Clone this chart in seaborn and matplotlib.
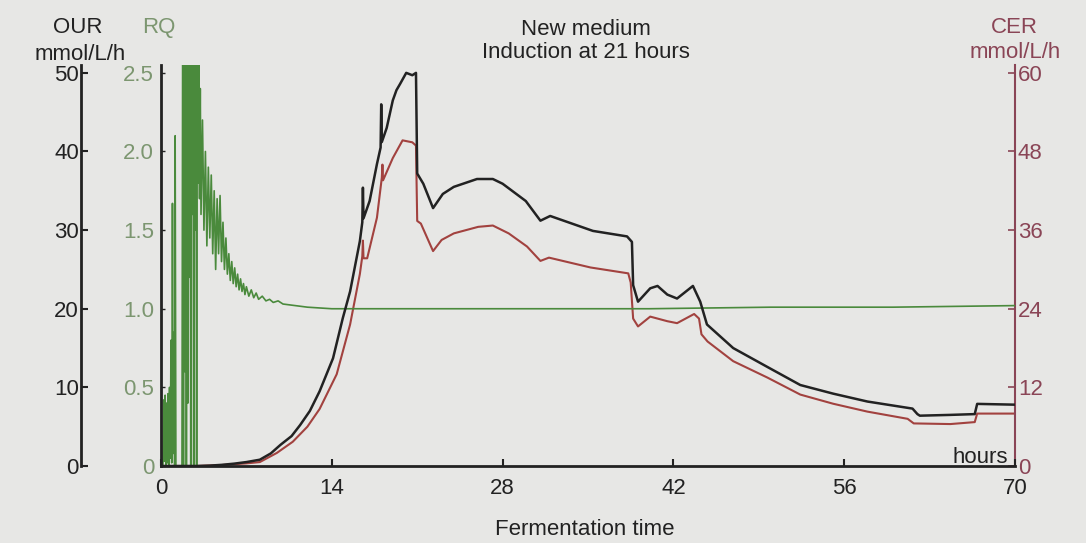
import matplotlib
matplotlib.use("Agg")
import matplotlib.pyplot as plt
import seaborn as sns

# --- Oxygen uptake rate (OUR, mmol/L/h) vs fermentation time (h) ---
our_t = [0.0, 2.9, 4.0, 5.0, 6.0, 7.0, 8.1, 9.0, 9.8, 10.7,
         11.4, 12.2, 13.0, 14.1, 14.9, 15.5, 16.3, 16.5, 16.55, 16.6,
         17.1, 17.7, 18.0, 18.05, 18.1, 18.5, 19.0, 19.3, 19.6, 20.1,
         20.6, 20.9, 21.0, 21.5, 22.3, 23.1, 24.0, 25.9, 27.2, 28.0,
         29.9, 31.1, 31.9, 35.4, 38.2, 38.6, 38.7, 39.1, 40.1, 40.7,
         41.5, 42.3, 43.6, 44.2, 44.75, 46.9, 49.7, 52.4, 55.1, 57.9,
         61.6, 62.0, 62.2, 64.7, 66.7, 66.9, 70.0]
our_v = [0.0, 0.0, 0.05, 0.15, 0.3, 0.5, 0.8, 1.6, 2.7, 3.8,
         5.2, 7.0, 9.5, 13.7, 18.8, 22.2, 28.6, 31.0, 35.4, 31.5,
         33.7, 38.4, 40.5, 46.0, 41.2, 43.0, 46.5, 47.8, 48.6, 50.0,
         49.7, 50.0, 37.2, 35.9, 32.8, 34.6, 35.5, 36.5, 36.5, 35.9,
         33.7, 31.2, 31.8, 29.9, 29.2, 28.5, 23.0, 20.9, 22.6, 22.9,
         21.8, 21.3, 22.9, 20.9, 18.0, 15.0, 12.6, 10.3, 9.2, 8.2,
         7.3, 6.6, 6.4, 6.5, 6.6, 7.9, 7.8]

# --- CO2 evolution rate (CER, mmol/L/h) ---
cer_t = [0.0, 2.9, 5.0, 7.0, 8.1, 9.5, 10.8, 12.0, 13.0, 14.4,
         15.5, 16.3, 16.5, 16.55, 16.6, 16.9, 17.7, 18.1, 18.15, 18.2,
         19.0, 19.8, 20.6, 20.9, 21.0, 21.3, 22.3, 23.0, 24.0, 26.0,
         27.2, 28.5, 30.0, 31.1, 31.8, 35.2, 38.3, 38.5, 38.7, 39.1,
         40.1, 41.5, 42.3, 43.7, 44.1, 44.3, 44.8, 46.9, 49.7, 52.4,
         55.1, 57.9, 61.2, 61.7, 64.7, 66.7, 66.9, 70.0]
cer_v = [0.0, 0.0, 0.15, 0.4, 0.6, 2.0, 3.7, 6.0, 8.7, 14.0,
         21.6, 29.3, 32.0, 34.4, 31.7, 31.7, 37.9, 44.0, 46.0, 43.6,
         47.0, 49.7, 49.4, 48.9, 37.4, 37.0, 32.8, 34.5, 35.5, 36.5,
         36.7, 35.5, 33.5, 31.3, 31.8, 30.3, 29.4, 28.0, 22.5, 21.3,
         22.8, 22.1, 21.8, 23.2, 22.5, 20.1, 19.0, 16.0, 13.5, 10.9,
         9.5, 8.3, 7.2, 6.5, 6.4, 6.7, 8.0, 8.0]

# --- Respiratory quotient (RQ): erratic start-up, then settling near 1 ---
rq_start_t = [0.00, 0.16, 0.22, 0.28, 0.34, 0.40, 0.46, 0.52, 0.58, 0.64,
              0.70, 0.76, 0.82, 0.88, 0.94, 1.00, 1.06, 1.12, 1.16, 1.22,
              1.72, 1.78, 1.84, 1.90, 1.96, 2.02, 2.08, 2.14, 2.20, 2.26,
              2.32, 2.38, 2.44, 2.50, 2.56, 2.62, 2.68, 2.74, 2.80, 2.86,
              2.92, 2.98, 3.04, 3.10, 3.16, 3.22]
rq_start_v = [0.0, 0.0, 0.42, 0.03, 0.45, 0.0, 0.40, 0.02, 0.46, 0.0,
              0.50, 0.05, 0.80, 0.02, 1.67, 0.08, 0.85, 0.0, 2.10, 0.0,
              0.0, 3.0, 0.0, 3.2, 0.6, 3.0, 0.0, 2.8, 0.4, 3.1,
              1.2, 2.9, 0.0, 3.0, 1.6, 2.7, 0.0, 2.6, 1.5, 2.9,
              0.0, 2.7, 1.8, 2.6, 1.7, 2.4]
rq_settle_t = [3.28, 3.40, 3.52, 3.64, 3.76, 3.88, 4.00, 4.12, 4.24, 4.36,
               4.48, 4.60, 4.72, 4.84, 4.96, 5.08, 5.20, 5.32, 5.44, 5.56,
               5.68, 5.80, 5.92, 6.04, 6.16, 6.28, 6.40, 6.52, 6.64, 6.76,
               6.88, 7.00, 7.20, 7.40, 7.60, 7.80, 8.00, 8.30, 8.60, 8.90,
               9.20, 9.60, 10.0, 11.0, 12.0, 14.0, 20.0, 30.0, 40.0, 50.0,
               60.0, 70.0]
rq_settle_v = [1.6, 2.2, 1.5, 2.0, 1.4, 1.9, 1.45, 1.85, 1.35, 1.75,
               1.25, 1.70, 1.35, 1.72, 1.30, 1.55, 1.25, 1.45, 1.22, 1.35,
               1.18, 1.30, 1.16, 1.26, 1.14, 1.22, 1.12, 1.19, 1.11, 1.16,
               1.09, 1.14, 1.08, 1.12, 1.07, 1.10, 1.06, 1.08, 1.05, 1.06,
               1.04, 1.05, 1.03, 1.02, 1.01, 1.0, 1.0, 1.0, 1.0, 1.01,
               1.01, 1.02]

x_ticks = [0, 14, 28, 42, 56, 70]
our_ticks = [0, 10, 20, 30, 40, 50]
rq_ticks = [0, 0.5, 1.0, 1.5, 2.0, 2.5]
rq_labels = ["0", "0.5", "1.0", "1.5", "2.0", "2.5"]
cer_ticks = [0, 12, 24, 36, 48, 60]

BG = "#e7e7e5"
DARK = "#222222"
RED = "#a2423f"
MAROON = "#8a4556"
GREEN = "#4a8a3c"
GREEN_TXT = "#7c9670"

sns.set_theme(style="ticks")
plt.rcParams["font.family"] = ["Liberation Sans", "DejaVu Sans"]
plt.rcParams["font.size"] = 16

W, H = 1086, 543
L, R, B, T = 161, 1015, 466, 65

fig = plt.figure(figsize=(W / 100, H / 100), dpi=100, facecolor=BG)
ax = fig.add_axes([L / W, 1 - B / H, (R - L) / W, (B - T) / H])
ax.patch.set_visible(False)
ax_rq = ax.twinx()
ax_cer = ax.twinx()

# draw order: CER underneath, RQ, then OUR on top
ax_cer.set_zorder(1)
ax_rq.set_zorder(2)
ax.set_zorder(3)
for a in (ax_cer, ax_rq, ax):
    a.patch.set_visible(False)

rq_t = rq_start_t + rq_settle_t
rq_v = rq_start_v + rq_settle_v
sns.lineplot(x=cer_t, y=cer_v, ax=ax_cer, color=RED, linewidth=1.5,
             sort=False, estimator=None)
sns.lineplot(x=rq_t, y=rq_v, ax=ax_rq, color=GREEN, linewidth=1.2,
             sort=False, estimator=None)
sns.lineplot(x=our_t, y=our_v, ax=ax, color=DARK, linewidth=1.8,
             sort=False, estimator=None)

# scales: all three share the same pixel scale (RQ x20 = OUR, CER = OUR x1.2)
ax.set_xlim(0, 70)
ax.set_ylim(0, 51.0)
ax_rq.set_ylim(0, 2.55)
ax_cer.set_ylim(0, 61.2)

ax.set_xticks(x_ticks)
ax.set_xticklabels([str(v) for v in x_ticks])
ax.set_yticks(our_ticks)
ax.set_yticklabels([str(v) for v in our_ticks])
ax_rq.set_yticks(rq_ticks)
ax_rq.set_yticklabels(rq_labels)
ax_cer.set_yticks(cer_ticks)
ax_cer.set_yticklabels([str(v) for v in cer_ticks])
for a in (ax, ax_rq, ax_cer):
    a.set_xlabel("")
    a.set_ylabel("")

# OUR axis: offset to the left
ax.spines["left"].set_position(("outward", 80 * 0.72))
ax.spines["left"].set_color(DARK)
ax.spines["left"].set_linewidth(2)
ax.spines["bottom"].set_color(DARK)
ax.spines["bottom"].set_linewidth(2)
ax.spines["right"].set_visible(False)
ax.spines["top"].set_visible(False)
ax.yaxis.set_ticks_position("left")
ax.tick_params(axis="y", direction="in", length=5, width=1.5, pad=1.5,
               colors=DARK, labelsize=16)
ax.tick_params(axis="x", direction="in", length=5, width=1.5, pad=9,
               colors=DARK, labelsize=16)

# RQ axis: at the plot's left edge
ax_rq.yaxis.set_ticks_position("left")
ax_rq.yaxis.set_label_position("left")
for s in ("right", "top", "bottom"):
    ax_rq.spines[s].set_visible(False)
ax_rq.spines["left"].set_visible(True)
ax_rq.spines["left"].set_color(DARK)
ax_rq.spines["left"].set_linewidth(2)
ax_rq.tick_params(axis="y", direction="in", length=3, width=1, pad=5,
                  color=DARK, labelcolor=GREEN_TXT, labelsize=16)

# CER axis: on the right
for s in ("left", "top", "bottom"):
    ax_cer.spines[s].set_visible(False)
ax_cer.spines["right"].set_color(MAROON)
ax_cer.spines["right"].set_linewidth(1.5)
ax_cer.tick_params(axis="y", direction="in", length=5, width=1.2, pad=2,
                   colors=MAROON, labelsize=16)

# headings and axis names
def ftext(x, y, s, **kw):
    fig.text(x / W, 1 - y / H, s, fontsize=16, **kw)

ftext(586, 35, "New medium", ha="center", va="baseline", color=DARK)
ftext(586, 58, "Induction at 21 hours", ha="center", va="baseline", color=DARK)
ftext(78, 33, "OUR", ha="center", va="baseline", color=DARK)
ftext(80, 60, "mmol/L/h", ha="center", va="baseline", color=DARK)
ftext(159, 33, "RQ", ha="center", va="baseline", color=GREEN_TXT)
ftext(1014, 33, "CER", ha="center", va="baseline", color=MAROON)
ftext(1015, 58, "mmol/L/h", ha="center", va="baseline", color=MAROON)
ftext(1008, 463, "hours", ha="right", va="baseline", color=DARK)
ftext(585, 535, "Fermentation time", ha="center", va="baseline", color=DARK)

fig.savefig("out.png", dpi=100, facecolor=BG)
